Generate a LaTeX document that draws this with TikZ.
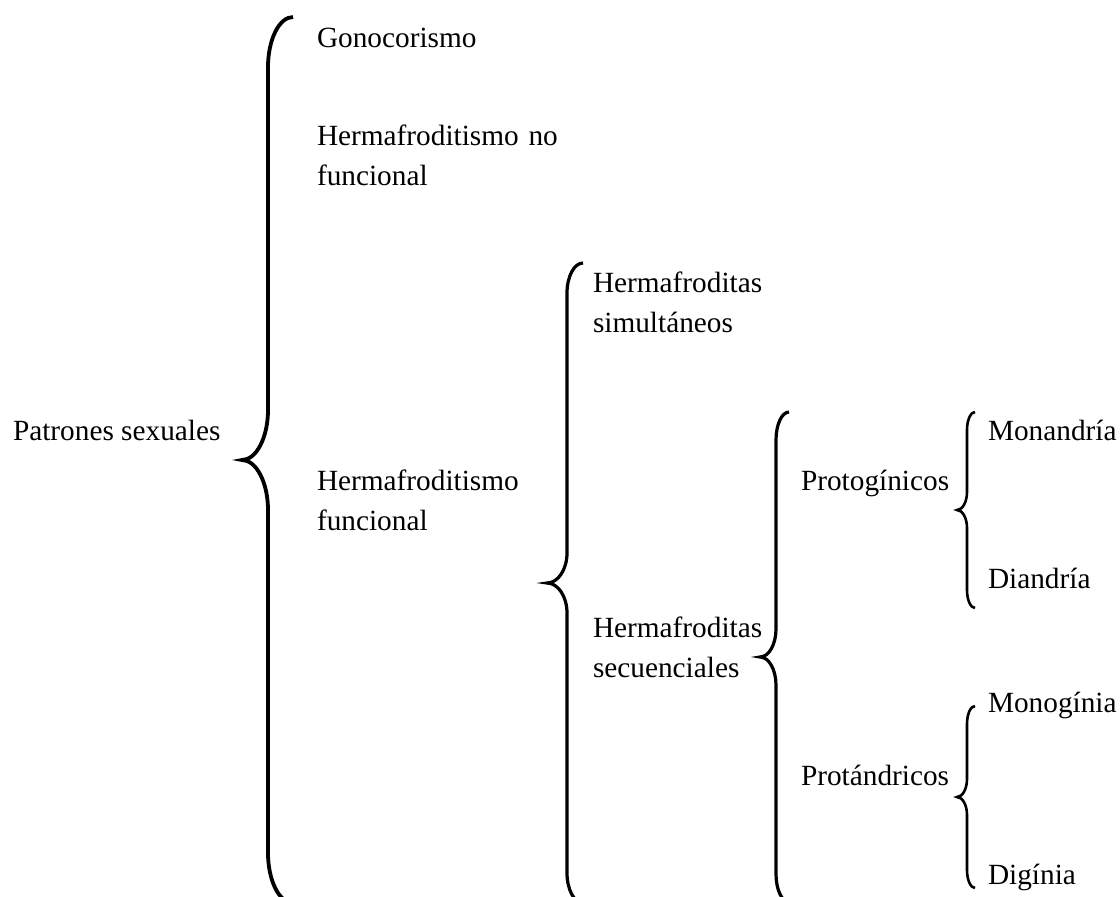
\documentclass[tikz,border=0pt]{standalone}
\usepackage{fontspec}
\newfontfamily\tnr{LiberationSerif}[Extension=.ttf, UprightFont=*-Regular, BoldFont=*-Bold, ItalicFont=*-Italic, BoldItalicFont=*-BoldItalic]
\tikzset{
  lbl/.style={inner sep=0pt, outer sep=0pt, anchor=base west, font=\tnr\fontsize{29.3bp}{40bp}\selectfont},
  lbltwo/.style={lbl, text width=270bp, align=left},
  bracebig/.style={line width=3.8bp, black},
  bracemid/.style={line width=3.2bp, black},
  bracesmall/.style={line width=2.6bp, black}
}
% #1 x of stem, #2 top y, #3 tip y, #4 bottom y, #5 hook width, #6 curve height, #7 tip depth, #8 style
\newcommand\mybrace[8]{%
  \draw[#8] (#1+#5,#2) .. controls (#1+0.45*#5,#2) and (#1,#2+0.45*#6) .. (#1,#2+#6)
    -- (#1,#3-#6) .. controls (#1,#3-0.45*#6) and (#1-0.45*#7,#3) .. (#1-#7,#3)
    .. controls (#1-0.45*#7,#3) and (#1,#3+0.45*#6) .. (#1,#3+#6)
    -- (#1,#4-#6) .. controls (#1,#4-0.45*#6) and (#1+0.45*#5,#4) .. (#1+#5,#4);}
\begin{document}
\begin{tikzpicture}[x=1bp, y=-1bp]
  \useasboundingbox (0,0) rectangle (1120,897);
  \clip (0,0) rectangle (1120,897);
  \fill[white] (0,0) rectangle (1120,897);

  \node[lbl] (patrones) at (13,440) {Patrones sexuales};
  \node[lbl] (gono) at (317,47) {Gonocorismo};
  \node[lbltwo] (hnf) at (317,145) {Hermafroditismo no\\funcional};
  \node[lbltwo] (hf) at (317,490) {Hermafroditismo\\funcional};
  \node[lbltwo] (hsim) at (593,292) {Hermafroditas\\simultáneos};
  \node[lbltwo] (hsec) at (593,637) {Hermafroditas\\secuenciales};
  \node[lbl] (protog) at (801,490) {Protogínicos};
  \node[lbl] (protan) at (801,785) {Protándricos};
  \node[lbl] (monan) at (988,440) {Monandría};
  \node[lbl] (dian) at (988,588) {Diandría};
  \node[lbl] (monog) at (988,712) {Monogínia};
  \node[lbl] (digi) at (988,884) {Digínia};

  \mybrace{268}{17}{460}{903}{25}{50}{26}{bracebig}
  \mybrace{567}{263}{583}{903}{16}{30}{20}{bracemid}
  \mybrace{776}{412}{657}{902}{13}{28}{16}{bracemid}
  \mybrace{967}{412}{510}{608}{8}{18}{10}{bracesmall}
  \mybrace{967}{706}{797}{888}{8}{18}{10}{bracesmall}
\end{tikzpicture}
\end{document}
